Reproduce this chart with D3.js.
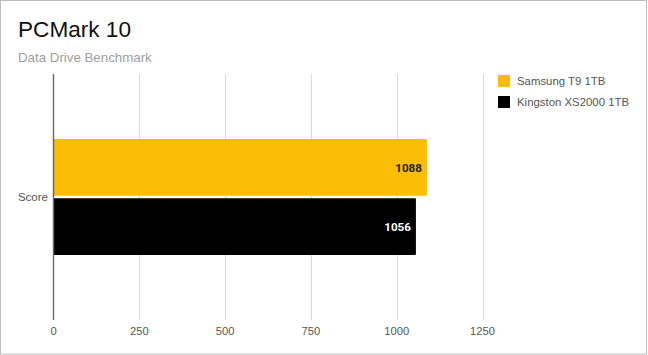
<!DOCTYPE html>
<html>
<head>
<meta charset="utf-8">
<script src="https://cdn.jsdelivr.net/npm/d3@7"></script>
<style>
  html, body { margin: 0; padding: 0; background: #fff; }
  svg { display: block; }
</style>
</head>
<body>
<script>
const categories = ["Score"];
const seriesNames = ["Samsung T9 1TB", "Kingston XS2000 1TB"];
const seriesValues = [[1088], [1056]];
const seriesColors = ["#FBBC04", "#000000"];
const labelColors = ["#1a1a1a", "#ffffff"];
const tickValues = [0, 250, 500, 750, 1000, 1250];

const W = 648, H = 355;
const svg = d3.select("body").append("svg").attr("width", W).attr("height", H);

// border
svg.append("rect").attr("x", 0.5).attr("y", 0.5).attr("width", W - 2).attr("height", H - 1.5)
  .attr("fill", "#fff").attr("stroke", "#bdbdbd").attr("stroke-width", 1);

// titles
svg.append("text").attr("x", 18).attr("y", 37).text("PCMark 10")
  .attr("font-family", "Liberation Sans, Arial, sans-serif").attr("font-size", 22.6).attr("fill", "#111");
svg.append("text").attr("x", 18).attr("y", 62).text("Data Drive Benchmark")
  .attr("font-family", "Liberation Sans, Arial, sans-serif").attr("font-size", 13.3).attr("fill", "#9e9e9e");

const plotTop = 74, plotBottom = 320;
const x = d3.scaleLinear().domain([0, 1250]).range([53.5, 482.5]);
const y0 = d3.scaleBand().domain(categories).range([plotTop, plotBottom]).paddingInner(0).paddingOuter(0.56);
const y1 = d3.scaleBand().domain(seriesNames).range([0, y0.bandwidth()]).paddingInner(0.04);

// gridlines
svg.append("g").selectAll("line").data(tickValues.filter(d => d !== 0)).join("line")
  .attr("x1", d => Math.round(x(d)) + 0.5).attr("x2", d => Math.round(x(d)) + 0.5)
  .attr("y1", plotTop).attr("y2", plotBottom)
  .attr("stroke", "#d9d9d9").attr("stroke-width", 1);

// tick labels
svg.append("g").selectAll("text").data(tickValues).join("text")
  .attr("x", d => x(d)).attr("y", 335).attr("text-anchor", "middle")
  .attr("font-family", "Liberation Sans, Arial, sans-serif").attr("font-size", 11.2).attr("fill", "#555")
  .text(d => d);

// bars
const rows = [];
categories.forEach((c, ci) => {
  seriesNames.forEach((s, si) => rows.push({ c, s, si, v: seriesValues[si][ci] }));
});

svg.append("g").selectAll("rect").data(rows).join("rect")
  .attr("x", x(0)).attr("y", d => y0(d.c) + y1(d.s))
  .attr("width", d => x(d.v) - x(0)).attr("height", y1.bandwidth())
  .attr("rx", 1).attr("fill", d => seriesColors[d.si]);

// value labels
svg.append("g").selectAll("text").data(rows).join("text")
  .attr("x", d => x(d.v) - 5).attr("y", d => y0(d.c) + y1(d.s) + y1.bandwidth() / 2)
  .attr("dy", "0.36em").attr("text-anchor", "end")
  .attr("font-family", "Roboto, sans-serif").attr("font-weight", "bold").attr("font-size", 11.6)
  .attr("fill", d => labelColors[d.si]).text(d => d.v);

// zero axis line
svg.append("line").attr("x1", x(0)).attr("x2", x(0)).attr("y1", plotTop).attr("y2", plotBottom)
  .attr("stroke", "#666").attr("stroke-width", 1.4);

// category label
svg.append("g").selectAll("text").data(categories).join("text")
  .attr("x", 48).attr("y", d => y0(d) + y0.bandwidth() / 2).attr("dy", "0.36em")
  .attr("text-anchor", "end")
  .attr("font-family", "Liberation Sans, Arial, sans-serif").attr("font-size", 11.5).attr("fill", "#555")
  .text(d => d);

// legend
const lg = svg.append("g").selectAll("g").data(seriesNames).join("g")
  .attr("transform", (d, i) => `translate(498, ${75 + i * 21})`);
lg.append("rect").attr("width", 12).attr("height", 12).attr("fill", (d, i) => seriesColors[i]);
lg.append("text").attr("x", 19).attr("y", 10)
  .attr("font-family", "Liberation Sans, Arial, sans-serif").attr("font-size", 11.4).attr("fill", "#555")
  .text(d => d);
</script>
</body>
</html>
